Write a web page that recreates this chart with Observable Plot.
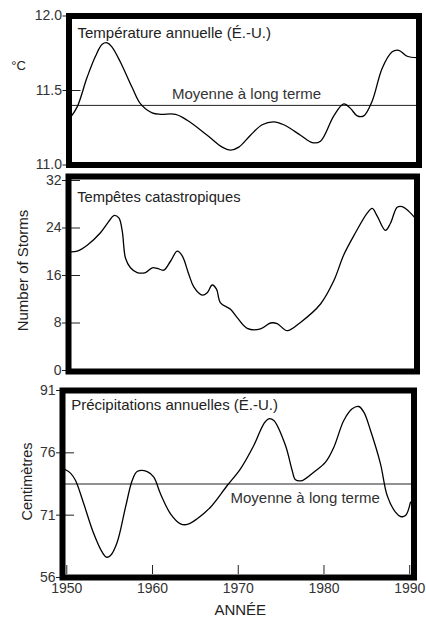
<!DOCTYPE html>
<html>
<head>
<meta charset="utf-8">
<script src="https://cdn.jsdelivr.net/npm/d3@7"></script>
<script src="https://cdn.jsdelivr.net/npm/@observablehq/plot@0.6"></script>
<style>
  body { margin: 0; background: #fff; }
  #chart svg { display: block; }
</style>
</head>
<body>
<div id="chart"></div>
<script>
// ---------- Data ----------
const tempYears = [1949.68,1950.46,1951.63,1952.60,1953.39,1953.97,1954.56,1955.53,1956.90,1957.88,1959.25,1960.22,1961.98,1963.35,1965.69,1967.45,1968.42,1969.39,1970.76,1972.13,1973.49,1974.66,1976.62,1977.99,1978.96,1980.52,1981.69,1982.47,1983.26,1984.03,1985.02,1986.19,1987.36,1988.13,1989.12,1990.29];
const tempValues = [11.32,11.39,11.59,11.73,11.81,11.82,11.79,11.69,11.52,11.41,11.35,11.34,11.34,11.30,11.20,11.12,11.10,11.12,11.20,11.27,11.29,11.27,11.20,11.15,11.16,11.33,11.41,11.38,11.33,11.33,11.43,11.65,11.76,11.77,11.73,11.72];
const tempMean = 11.4;
const tempTicks = [11.0, 11.5, 12.0];

const stormYears = [1949.54,1950.52,1951.70,1953.26,1954.24,1954.83,1955.42,1955.82,1956.21,1956.79,1957.58,1958.56,1959.35,1959.94,1960.71,1961.50,1962.29,1962.88,1963.65,1964.24,1965.23,1965.82,1966.41,1966.91,1967.38,1968.56,1969.35,1970.52,1972.09,1973.26,1974.05,1975.23,1976.79,1979.15,1980.71,1981.89,1983.26,1984.64,1985.23,1985.82,1986.79,1987.38,1988.17,1988.76,1989.54,1990.32];
const stormValues = [20.0,20.1,21.1,23.2,25.1,26.1,25.7,23.5,18.9,17.3,16.5,16.5,17.3,17.2,16.9,18.4,20.1,19.3,16.2,14.1,12.7,13.1,14.4,13.7,11.4,10.3,8.9,7.1,7.0,8.0,7.9,6.7,8.1,11.2,15.1,19.5,23.2,26.5,27.3,26.0,23.6,24.8,27.5,27.6,26.8,25.6];
const stormTicks = [0, 8, 16, 24, 32];

const precipYears = [1949.65,1950.43,1951.02,1951.98,1953.15,1954.13,1954.63,1955.10,1955.88,1956.85,1957.63,1958.21,1959.38,1960.15,1960.93,1962.10,1963.26,1964.05,1965.21,1966.76,1968.71,1970.26,1971.81,1972.98,1973.56,1974.15,1975.51,1976.29,1976.68,1977.46,1978.81,1980.18,1981.15,1982.31,1983.29,1984.06,1984.65,1985.43,1986.59,1987.37,1988.34,1988.93,1989.51,1990.09];
const precipValues = [74.72,74.37,73.78,71.91,66.52,62.09,60.89,61.29,64.50,71.64,73.78,74.50,74.50,74.05,72.71,71.11,68.92,68.76,70.13,71.64,73.38,74.72,77.77,82.99,84.19,83.78,77.77,74.58,73.84,73.78,74.45,75.25,77.35,83.78,86.60,87.15,85.78,81.37,75.12,72.58,71.24,70.68,70.92,72.04];
const precipMean = 73.5;
const precipTicks = [56, 71, 76, 91];

const yearTicks = [1950, 1960, 1970, 1980, 1990];

const titles = ["Température annuelle (É.-U.)", "Tempêtes catastropiques", "Précipitations annuelles (É.-U.)"];
const meanLabel = "Moyenne à long terme";
const unitLabels = ["°C", "Number of Storms", "Centimètres"];
const xLabel = "ANNÉE";

// ---------- Helpers ----------
const W = 426;
const FONT = "'Liberation Sans', Arial, Helvetica, sans-serif";
const xDomain = [1949.5, 1990.5];
const rows = (xs, ys) => xs.map((x, i) => ({year: x, value: ys[i]}));
const style = {fontFamily: FONT, fontSize: "14px", color: "#333", background: "#fff", overflow: "visible"};
const lineOpts = {x: "year", y: "value", curve: "catmull-rom", stroke: "#000", strokeWidth: 1.3};
const txt = {text: d => d, lineAnchor: "middle", fill: "#222"};
const noText = () => "";

// y axis: tick marks crossing the frame + labels outside
const yAxes = (ticks, fmt) => [
  Plot.axisY({ticks, tickFormat: noText, tickSize: 18, dx: 12, label: null, stroke: "#222"}),
  Plot.axisY({ticks, tickFormat: fmt, tickSize: 0, tickPadding: 7, label: null, fontSize: 14})
];

const chart = document.getElementById("chart");

// Panel 1: temperature
chart.append(Plot.plot({
  width: W, height: 170,
  marginTop: 15.5, marginBottom: 5.5, marginLeft: 68.5, marginRight: 7.5,
  style,
  x: {domain: xDomain, axis: null},
  y: {domain: [11, 12], label: null},
  marks: [
    ...yAxes(tempTicks, d3.format(".1f")),
    Plot.ruleY([tempMean], {stroke: "#222", strokeWidth: 1}),
    Plot.line(rows(tempYears, tempValues), lineOpts),
    Plot.text([titles[0]], {...txt, frameAnchor: "top-left", textAnchor: "start", dx: 8.5, dy: 17.5, fontSize: 15}),
    Plot.text([meanLabel], {...txt, x: 1970.3, y: tempMean, dy: -11, fontSize: 15, fill: "#333"}),
    Plot.text([unitLabels[0]], {...txt, frameAnchor: "top-left", textAnchor: "middle", dx: -50.5, dy: 49.5, fontSize: 13}),
    Plot.frame({stroke: "#000", strokeWidth: 6})
  ]
}));

// Panel 2: storms
chart.append(Plot.plot({
  width: W, height: 210,
  marginTop: 10, marginBottom: 10, marginLeft: 68, marginRight: 9.5,
  style,
  x: {domain: xDomain, axis: null},
  y: {domain: [0, 32], label: null},
  marks: [
    ...yAxes(stormTicks, d3.format("d")),
    Plot.line(rows(stormYears, stormValues), lineOpts),
    Plot.text([titles[1]], {...txt, frameAnchor: "top-left", textAnchor: "start", dx: 8.7, dy: 16.7, fontSize: 14.7}),
    Plot.text([unitLabels[1]], {...txt, frameAnchor: "left", textAnchor: "middle", rotate: -90, dx: -45, dy: -5, fontSize: 15}),
    Plot.frame({stroke: "#000", strokeWidth: 6, insetTop: -4, insetBottom: -1})
  ]
}));

// Panel 3: precipitation (piecewise scale, evenly spaced ticks)
const h3 = 238, mt3 = 10, mb3 = 41;
const b3 = h3 - mb3;
chart.append(Plot.plot({
  width: W, height: h3,
  marginTop: mt3, marginBottom: mb3, marginLeft: 62, marginRight: 12.5,
  style,
  x: {domain: xDomain, label: null},
  y: {type: "linear", domain: precipTicks, range: precipTicks.map((_, i) => b3 - i * (b3 - mt3) / (precipTicks.length - 1)), label: null},
  marks: [
    ...yAxes(precipTicks, d3.format("d")),
    Plot.axisX({ticks: yearTicks, tickFormat: noText, tickSize: 9, dy: -12, label: null, stroke: "#222"}),
    Plot.axisX({ticks: yearTicks, tickFormat: d3.format("d"), tickSize: 0, tickPadding: 6, label: null, fontSize: 14}),
    Plot.ruleY([precipMean], {stroke: "#222", strokeWidth: 1}),
    Plot.line(rows(precipYears, precipValues), lineOpts),
    Plot.text([titles[2]], {...txt, frameAnchor: "top-left", textAnchor: "start", dx: 8.7, dy: 14.3, fontSize: 15}),
    Plot.text([meanLabel], {...txt, x: 1977.8, y: precipMean, dy: 14, fontSize: 15, fill: "#333"}),
    Plot.text([unitLabels[2]], {...txt, frameAnchor: "left", textAnchor: "middle", rotate: -90, dx: -35, dy: -2.5, fontSize: 14.5}),
    Plot.text([xLabel], {...txt, frameAnchor: "bottom", textAnchor: "middle", dx: 2, dy: 33, fontSize: 15}),
    Plot.frame({stroke: "#000", strokeWidth: 6})
  ]
}));
</script>
</body>
</html>
